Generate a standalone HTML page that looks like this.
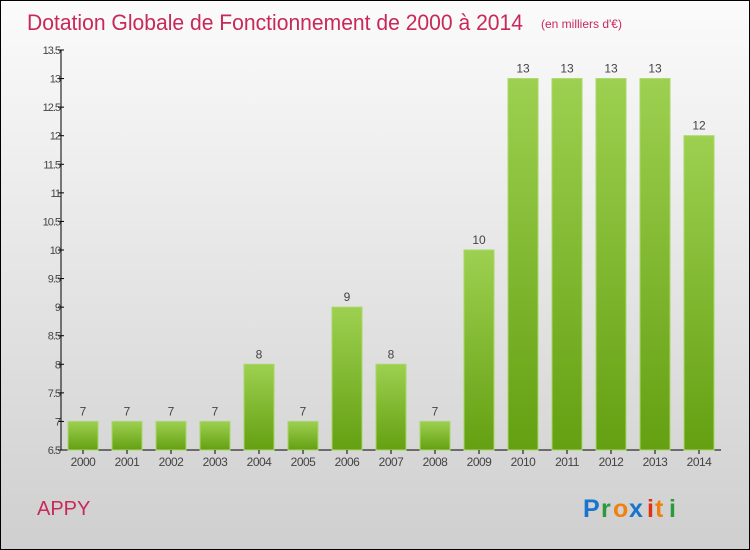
<!DOCTYPE html>
<html><head><meta charset="utf-8"><style>
body{margin:0}
#c{position:relative;width:748px;height:548px;border:1px solid #000;background:linear-gradient(#fbfbfb,#cfcfcf);overflow:hidden;font-family:"Liberation Sans",sans-serif}
</style></head><body>
<div id="c">
<svg width="748" height="548" style="position:absolute;left:0;top:0" id="svg">
<defs><linearGradient id="g" x1="0" y1="0" x2="0" y2="1"><stop offset="0" stop-color="#9dd050"/><stop offset="1" stop-color="#64a012"/></linearGradient></defs>
<text x="26" y="29" font-size="22" fill="#c8285a" textLength="496" lengthAdjust="spacingAndGlyphs">Dotation Globale de Fonctionnement de 2000 à 2014</text>
<text x="540" y="27" font-size="12" fill="#c8285a">(en milliers d'€)</text>
<text x="36" y="514" font-size="20" fill="#c8285a">APPY</text>
<g font-size="25" font-weight="bold" font-family="Liberation Sans,sans-serif">
<text x="582" y="516" fill="#1874cd">P</text><text x="600" y="516" fill="#2a9a3a">r</text><text x="612" y="516" fill="#f08010">o</text><text x="628" y="516" fill="#1874cd">x</text><text x="646" y="516" fill="#e03010">i</text><text x="654" y="516" fill="#f08010">t</text><text x="668" y="516" fill="#2a9a3a">i</text></g>
</svg>
</div>
<script>
const years=["2000","2001","2002","2003","2004","2005","2006","2007","2008","2009","2010","2011","2012","2013","2014"];
const values=[7,7,7,7,8,7,9,8,7,10,13,13,13,13,12];
const yTicks=[6.5,7,7.5,8,8.5,9,9.5,10,10.5,11,11.5,12,12.5,13,13.5];
const svg=document.getElementById('svg');const NS='http://www.w3.org/2000/svg';
const x0=60,yBase=449,yMin=6.5,yMax=13.5,yTop=49,step=44;
function y(v){return yBase-(v-yMin)/(yMax-yMin)*(yBase-yTop);}
function xc(i){return x0+22+i*step;}
function mk(t,a,p){const e=document.createElementNS(NS,t);for(const k in a)e.setAttribute(k,a[k]);(p||svg).appendChild(e);return e;}
let ax=mk('line',{x1:x0,y1:yTop,x2:x0,y2:yBase,stroke:'#000'});


let bx=mk('line',{x1:x0,y1:yBase,x2:720,y2:yBase,stroke:'#000'});


yTicks.forEach(v=>{
 const l=mk('line',{x1:x0-3,y1:y(v),x2:x0+3,y2:y(v),stroke:'#000'});
 
 
 const t=mk('text',{x:x0-1,y:y(v)+4,'font-size':11,fill:'#444','text-anchor':'end','letter-spacing':'-1'});t.textContent=String(v);
 
 
});
years.forEach((yr,i)=>{
 const v=values[i];
 const r=mk('rect',{x:xc(i)-15,y:y(v),width:30,height:yBase-y(v),fill:'url(#g)',stroke:'#a8d868','stroke-width':1});
 
 
 const t=mk('text',{x:xc(i),y:y(v)-6,'font-size':12,fill:'#444','text-anchor':'middle'});t.textContent=v;
 
 
 const k=mk('line',{x1:xc(i),y1:yBase,x2:xc(i),y2:yBase+4,stroke:'#000'});
 
 
 const xl=mk('text',{x:xc(i),y:yBase+16,'font-size':12,fill:'#444','text-anchor':'middle','letter-spacing':'-0.5'});xl.textContent=yr;
 
 
});
</script>
</body></html>
